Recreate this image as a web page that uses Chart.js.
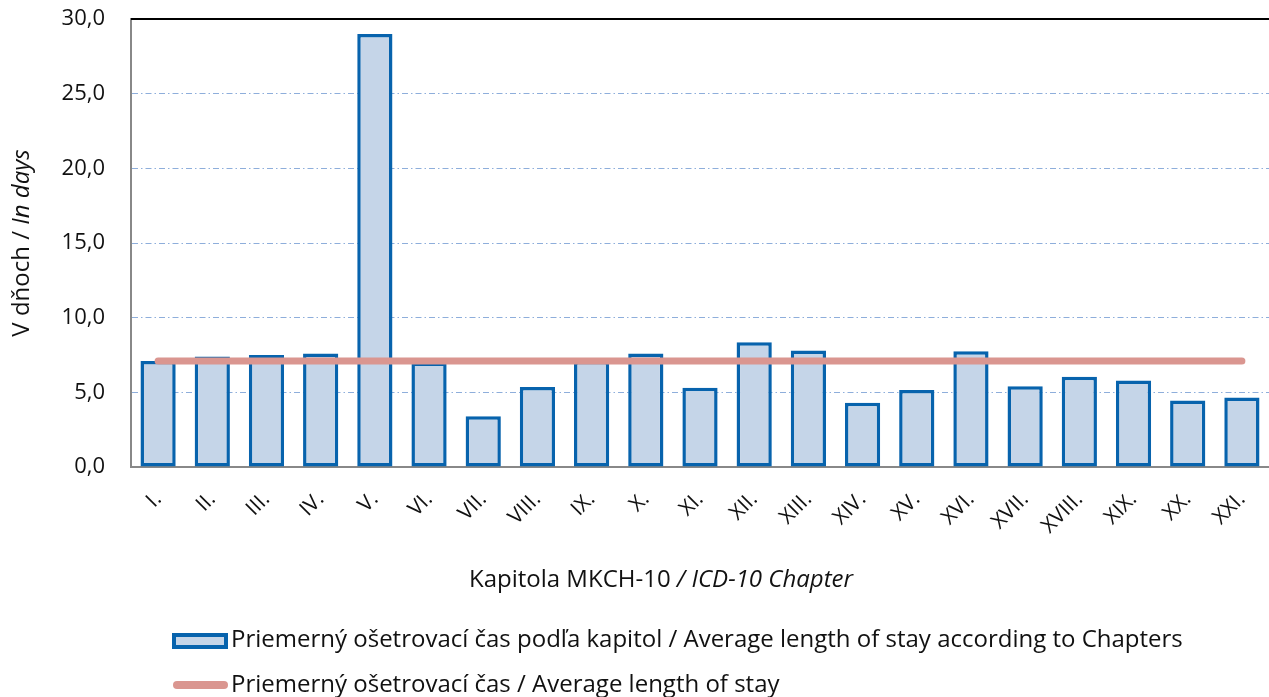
<!DOCTYPE html>
<html>
<head>
<meta charset="utf-8">
<script src="https://cdn.jsdelivr.net/npm/chart.js@4"></script>
<style>
html,body{margin:0;padding:0;background:#fff;}
#wrap{width:1269px;height:697px;position:relative;}
</style>
</head>
<body>
<div id="wrap"><canvas id="c" width="1269" height="697"></canvas></div>
<script>
const categories = ['I.','II.','III.','IV.','V.','VI.','VII.','VIII.','IX.','X.','XI.','XII.','XIII.','XIV.','XV.','XVI.','XVII.','XVIII.','XIX.','XX.','XXI.'];
const chapterValues = [7.1, 7.4, 7.5, 7.6, 29.0, 7.0, 3.4, 5.35, 7.1, 7.6, 5.3, 8.35, 7.8, 4.3, 5.15, 7.75, 5.4, 6.05, 5.8, 4.45, 4.65];
const averageValues = [7.1, 7.1, 7.1, 7.1, 7.1, 7.1, 7.1, 7.1, 7.1, 7.1, 7.1, 7.1, 7.1, 7.1, 7.1, 7.1, 7.1, 7.1, 7.1, 7.1, 7.1];
const yTicks = [0, 5, 10, 15, 20, 25, 30];
const seriesNames = ['Priemerný ošetrovací čas podľa kapitol / Average length of stay according to Chapters', 'Priemerný ošetrovací čas / Average length of stay'];
const yTitleParts = ['V dňoch / ', 'In days'];
const xTitleParts = ['Kapitola MKCH-10 ', '/ ICD-10 Chapter'];

const FONT = '"Open Sans", "Noto Sans", sans-serif';
const BAR_FILL = '#c5d5e8';
const BAR_BORDER = '#0763ad';
const LINE_COLOR = '#da9690';

function drawParts(ctx, parts, x, y, size) {
  const fonts = [size + 'px ' + FONT, 'italic ' + size + 'px ' + FONT];
  let total = 0;
  const widths = parts.map((p, i) => { ctx.font = fonts[i]; const w = ctx.measureText(p).width; total += w; return w; });
  let cx = x - total / 2;
  parts.forEach((p, i) => { ctx.font = fonts[i]; ctx.fillText(p, cx, y); cx += widths[i]; });
}

const decorations = {
  id: 'decorations',
  afterDraw(chart) {
    const ctx = chart.ctx;
    const a = chart.chartArea;
    ctx.save();
    ctx.strokeStyle = '#000';
    ctx.lineWidth = 2;
    ctx.beginPath();
    ctx.moveTo(a.left, a.top);
    ctx.lineTo(a.right, a.top);
    ctx.stroke();
    ctx.fillStyle = '#111';
    ctx.textBaseline = 'middle';
    ctx.textAlign = 'left';
    ctx.save();
    ctx.translate(22, (a.top + a.bottom) / 2);
    ctx.rotate(-Math.PI / 2);
    drawParts(ctx, yTitleParts, 0, 0, 24);
    ctx.restore();
    drawParts(ctx, xTitleParts, 661, 580, 24);
    ctx.fillStyle = BAR_FILL;
    ctx.fillRect(174, 635, 52, 12);
    ctx.strokeStyle = BAR_BORDER;
    ctx.lineWidth = 4;
    ctx.strokeRect(174, 635, 52, 12);
    ctx.strokeStyle = LINE_COLOR;
    ctx.lineWidth = 8;
    ctx.lineCap = 'round';
    ctx.beginPath();
    ctx.moveTo(177, 685);
    ctx.lineTo(224, 685);
    ctx.stroke();
    ctx.fillStyle = '#111';
    ctx.font = '24px ' + FONT;
    ctx.fillText(seriesNames[0], 231, 640);
    ctx.fillText(seriesNames[1], 231, 685);
    ctx.restore();
  }
};

new Chart(document.getElementById('c'), {
  type: 'bar',
  data: {
    labels: categories,
    datasets: [
      {
        type: 'line',
        label: seriesNames[1],
        data: averageValues,
        borderColor: LINE_COLOR,
        borderWidth: 7,
        borderCapStyle: 'round',
        pointRadius: 0,
        fill: false,
        order: 0
      },
      {
        type: 'bar',
        label: seriesNames[0],
        data: chapterValues,
        backgroundColor: BAR_FILL,
        borderColor: BAR_BORDER,
        borderWidth: 3.5,
        borderSkipped: false,
        barPercentage: 0.65,
        categoryPercentage: 1,
        order: 1
      }
    ]
  },
  options: {
    responsive: false,
    animation: false,
    devicePixelRatio: 1,
    layout: { padding: { top: 19, left: 0, right: 0, bottom: 0 } },
    plugins: { legend: { display: false }, tooltip: { enabled: false } },
    scales: {
      x: {
        grid: { display: false },
        border: { color: '#888', width: 2 },
        ticks: {
          color: '#111',
          font: { family: FONT, size: 21 },
          maxRotation: 45,
          minRotation: 45,
          autoSkip: false,
          padding: 12
        },
        afterFit(s) { s.height = 230; s.paddingLeft = 0; s.paddingRight = 0; }
      },
      y: {
        min: 0,
        max: 30,
        afterBuildTicks(s) { s.ticks = yTicks.map(v => ({ value: v })); },
        grid: {
          drawTicks: false,
          color: (c) => (c.tick && c.tick.value > 0 && c.tick.value < 30) ? '#8eaedb' : 'rgba(0,0,0,0)',
          lineWidth: 1
        },
        border: { color: '#888', width: 2, dash: [6, 3, 1.5, 3] },
        ticks: {
          color: '#111',
          font: { family: FONT, size: 22 },
          padding: 26,
          callback: (v) => v.toFixed(1).replace('.', ',')
        },
        afterFit(s) { s.width = 131; s.paddingTop = 0; s.paddingBottom = 0; }
      }
    }
  },
  plugins: [decorations]
});
</script>
</body>
</html>
